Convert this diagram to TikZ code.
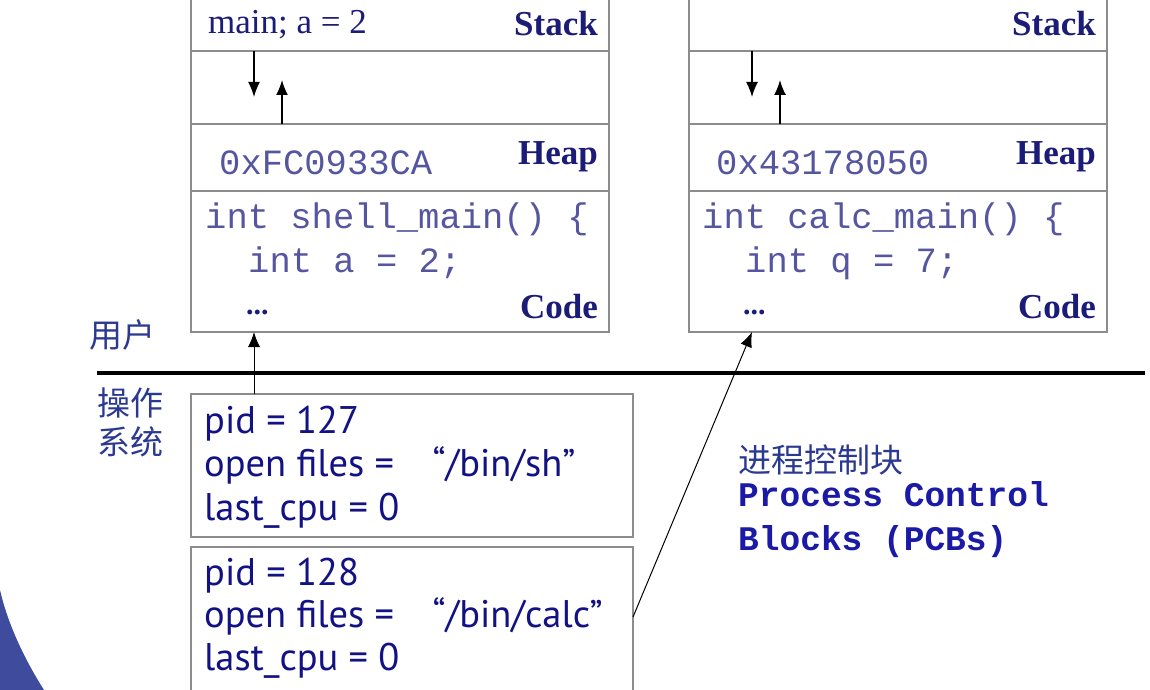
\documentclass[tikz,border=0pt]{standalone}
\usepackage{fontspec}
\setmainfont{Liberation Serif}
\setmonofont{Liberation Mono}
\newfontfamily\pcbfont{PT Sans}
\newfontfamily\cjk{Noto Sans CJK SC}
\usetikzlibrary{positioning,arrows.meta}

\definecolor{boxgray}{HTML}{8C8C8C}
\definecolor{tagblue}{HTML}{1B1B78}
\definecolor{codeblue}{HTML}{5656A0}
\definecolor{pcbblue}{HTML}{121284}
\definecolor{cjkblue}{HTML}{2B3990}
\definecolor{titleblue}{HTML}{1A1AA6}
\definecolor{swoosh}{HTML}{3F4C9E}

\tikzset{
  seg/.style={draw=boxgray, line width=1.5pt, minimum width=418pt, inner sep=0pt, outer sep=0pt},
  pcbbox/.style={draw=boxgray, line width=1.5pt, minimum width=442pt, inner sep=0pt, outer sep=0pt, anchor=north west},
  tag/.style={font=\fontsize{35}{35}\selectfont\bfseries, text=tagblue, inner sep=0pt, anchor=base east},
  vartxt/.style={font=\fontsize{35}{35}\selectfont, text=tagblue, inner sep=0pt, anchor=base west},
  codetxt/.style={font=\fontsize{35.5}{35.5}\selectfont\ttfamily, text=codeblue, inner sep=0pt, anchor=base west},
  pcbtxt/.style={font=\fontsize{38.5}{38.5}\selectfont\pcbfont, text=pcbblue, inner sep=0pt, anchor=base west},
  cjktxt/.style={font=\fontsize{33}{33}\selectfont\cjk, text=cjkblue, inner sep=0pt},
  titletxt/.style={font=\fontsize{34.5}{34.5}\selectfont\ttfamily\bfseries, text=titleblue, inner sep=0pt, anchor=base west},
  growarrow/.style={line width=1.5pt, -{Latex[length=15pt,width=12pt]}},
  ptr/.style={line width=1pt, -{Latex[length=15pt,width=12pt]}}
}

\begin{document}
\begin{tikzpicture}[x=1pt,y=-1pt]
\useasboundingbox (0,0) rectangle (1150,690);
\fill[white] (0,0) rectangle (1150,690);
\clip (0,0) rectangle (1150,690);

% slide decoration
\fill[swoosh] (0,590) .. controls (8,625) and (25,660) .. (44,690) -- (0,690) -- cycle;

% shell address space
\node[seg, minimum height=81pt, anchor=north west] (shstack) at (191,-30) {};
\node[seg, minimum height=73pt, below=0pt of shstack] (shgap) {};
\node[seg, minimum height=67pt, below=0pt of shgap] (shheap) {};
\node[seg, minimum height=141pt, below=0pt of shheap] (shcode) {};
\node[vartxt] (shvar) at (208,34) {main;\ a = 2};
\node[tag] (shstacktag) at (598,36) {Stack};
\node[codetxt] (shaddr) at (219,174) {0xFC0933CA};
\node[tag] (shheaptag) at (598,164) {Heap};
\node[codetxt] (shline1) at (205,228) {int shell\_main() \{};
\node[codetxt] (shline2) at (248,272) {int a = 2;};
\node[vartxt, font=\fontsize{30}{30}\selectfont\bfseries] (shdots) at (246,314) {...};
\node[tag] (shcodetag) at (598,318) {Code};
\coordinate (shdown) at (254,97);
\coordinate (shup) at (282,80);
\draw[growarrow] (shgap.north -| shdown) -- (shdown);
\draw[growarrow] (shheap.north -| shup) -- (shup);

% calc address space
\node[seg, minimum height=81pt, anchor=north west] (castack) at (689,-30) {};
\node[seg, minimum height=73pt, below=0pt of castack] (cagap) {};
\node[seg, minimum height=67pt, below=0pt of cagap] (caheap) {};
\node[seg, minimum height=141pt, below=0pt of caheap] (cacode) {};
\node[tag] (castacktag) at (1096,36) {Stack};
\node[codetxt] (caaddr) at (716,174) {0x43178050};
\node[tag] (caheaptag) at (1096,164) {Heap};
\node[codetxt] (caline1) at (702,228) {int calc\_main() \{};
\node[codetxt] (caline2) at (745,272) {int q = 7;};
\node[vartxt, font=\fontsize{30}{30}\selectfont\bfseries] (cadots) at (743,314) {...};
\node[tag] (cacodetag) at (1096,318) {Code};
\coordinate (cadown) at (752,97);
\coordinate (caup) at (780,80);
\draw[growarrow] (cagap.north -| cadown) -- (cadown);
\draw[growarrow] (caheap.north -| caup) -- (caup);

% user / kernel boundary
\draw[line width=4pt] (97,373) -- (1145,373);
\node[cjktxt] (user) at (122,335) {用户};
\node[cjktxt, align=center] (kernel) at (130,422) {操作\\[6pt]系统};

% PCBs
\node[pcbbox, minimum height=143pt] (pcbsh) at (191,394) {};
\node[pcbtxt] (shpid) at (204,433) {pid = 127};
\node[pcbtxt] (shfiles) at (204,476) {open files =\quad “/bin/sh”};
\node[pcbtxt] (shcpu) at (204,520) {last\_cpu = 0};
\node[pcbbox, minimum height=180pt] (pcbca) at (191,547) {};
\node[pcbtxt] (capid) at (204,585) {pid = 128};
\node[pcbtxt] (cafiles) at (204,627) {open files =\quad “/bin/calc”};
\node[pcbtxt] (cacpu) at (204,670) {last\_cpu = 0};

\coordinate (shentry) at (254,0);
\coordinate (caentry) at (752,0);
\draw[ptr] (pcbsh.north -| shentry) -- (shcode.south -| shentry);
\draw[ptr] ([yshift=-70pt]pcbca.north east) -- (cacode.south -| caentry);

\node[cjktxt, anchor=base west] (pcbname) at (738,472) {进程控制块};
\node[titletxt] (pcbtitle1) at (738,506) {Process Control};
\node[titletxt] (pcbtitle2) at (738,550) {Blocks (PCBs)};
\end{tikzpicture}
\end{document}
